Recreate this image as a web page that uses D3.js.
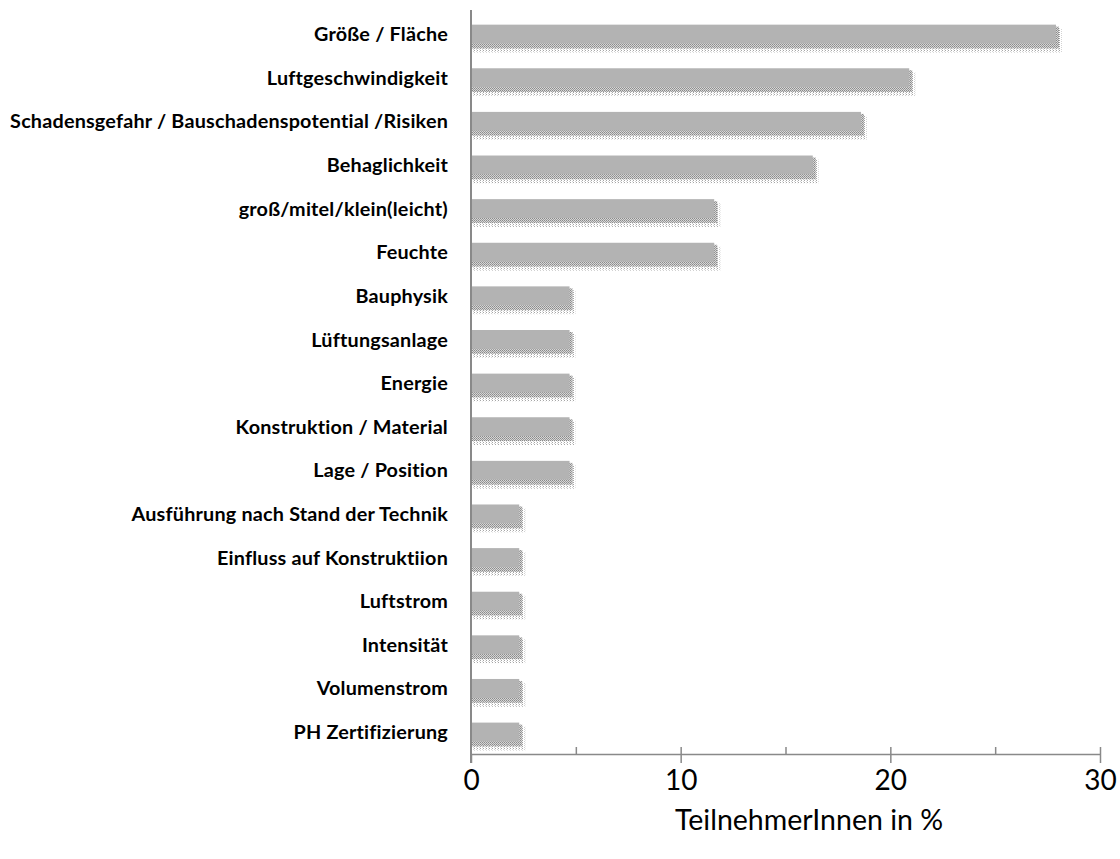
<!DOCTYPE html>
<html>
<head>
<meta charset="utf-8">
<script src="https://cdn.jsdelivr.net/npm/d3@7"></script>
<style>
  html, body { margin: 0; padding: 0; background: #fff; }
  svg { display: block; }
</style>
</head>
<body>
<svg id="chart" width="1120" height="859"></svg>
<script>
// Aspects named by participants (share of participants, %)
const categories = [
  "Größe / Fläche",
  "Luftgeschwindigkeit",
  "Schadensgefahr / Bauschadenspotential /Risiken",
  "Behaglichkeit",
  "groß/mitel/klein(leicht)",
  "Feuchte",
  "Bauphysik",
  "Lüftungsanlage",
  "Energie",
  "Konstruktion / Material",
  "Lage / Position",
  "Ausführung nach Stand der Technik",
  "Einfluss auf Konstruktiion",
  "Luftstrom",
  "Intensität",
  "Volumenstrom",
  "PH Zertifizierung"
];
const values = [27.9, 20.9, 18.6, 16.3, 11.6, 11.6, 4.7, 4.7, 4.7, 4.7, 4.7, 2.3, 2.3, 2.3, 2.3, 2.3, 2.3];
const majorTicks = [0, 10, 20, 30];
const minorTicks = [5, 10, 15, 20, 25, 30];
const axisTitle = "TeilnehmerInnen in %";

const svg = d3.select("#chart");
const plotLeft = 471, plotRight = 1100, plotTop = 12, plotBottom = 754;
const axisColor = "#898989";
const font = "Lato, 'Open Sans', sans-serif";

const x = d3.scaleLinear().domain([0, 30]).range([plotLeft, plotRight]);
const y = d3.scaleBand().domain(categories).range([plotTop, plotBottom]).paddingInner(0.57).paddingOuter(0.29);
const bw = y.bandwidth();

// dithered shadow patterns: a darker band near the bar, a sparse one further out
const defs = svg.append("defs");
const darkDither = defs.append("pattern").attr("id", "ditherDark")
  .attr("width", 2).attr("height", 2).attr("patternUnits", "userSpaceOnUse");
darkDither.append("rect").attr("width", 2).attr("height", 2).attr("fill", "#d6d6d6");
darkDither.append("rect").attr("x", 0).attr("y", 0).attr("width", 1).attr("height", 1).attr("fill", "#8a8a8a");
darkDither.append("rect").attr("x", 1).attr("y", 1).attr("width", 1).attr("height", 1).attr("fill", "#9c9c9c");
const lightDither = defs.append("pattern").attr("id", "ditherLight")
  .attr("width", 3).attr("height", 2).attr("patternUnits", "userSpaceOnUse");
lightDither.append("rect").attr("width", 3).attr("height", 2).attr("fill", "#ffffff");
lightDither.append("rect").attr("x", 0).attr("y", 0).attr("width", 1).attr("height", 1).attr("fill", "#a6a6a6");
lightDither.append("rect").attr("x", 2).attr("y", 1).attr("width", 1).attr("height", 1).attr("fill", "#d2d2d2");

const bars = svg.append("g");
bars.selectAll("rect.shadow-outer").data(values).join("rect")
  .attr("class", "shadow-outer")
  .attr("x", x(0) + 2)
  .attr("y", (d, i) => y(categories[i]) + 4)
  .attr("width", d => x(d) - x(0) + 4)
  .attr("height", bw + 5)
  .attr("fill", "url(#ditherLight)");
bars.selectAll("rect.shadow-inner").data(values).join("rect")
  .attr("class", "shadow-inner")
  .attr("x", x(0) + 1)
  .attr("y", (d, i) => y(categories[i]) + 2)
  .attr("width", d => x(d) - x(0) + 2)
  .attr("height", bw + 3)
  .attr("fill", "url(#ditherDark)");
bars.selectAll("rect.bar").data(values).join("rect")
  .attr("class", "bar")
  .attr("x", x(0))
  .attr("y", (d, i) => y(categories[i]))
  .attr("width", d => x(d) - x(0))
  .attr("height", bw)
  .attr("fill", "#b3b3b3");

// category labels
const yAxis = svg.append("g").attr("transform", `translate(${plotLeft},0)`)
  .call(d3.axisLeft(y).tickSize(0).tickPadding(23));
yAxis.select(".domain").remove();
yAxis.selectAll("text")
  .attr("font-family", font)
  .attr("font-weight", "bold")
  .attr("font-size", 19.8)
  .attr("letter-spacing", "0.2px")
  .attr("fill", "#000")
  .attr("dy", "0.36em");

// vertical axis line
svg.append("line").attr("x1", plotLeft).attr("x2", plotLeft).attr("y1", 10).attr("y2", 763)
  .attr("stroke", axisColor).attr("stroke-width", 2);

// minor/major ticks above the axis
const xTop = svg.append("g").attr("transform", `translate(0,${plotBottom})`)
  .call(d3.axisTop(x).tickValues(minorTicks).tickSize(7).tickFormat(""));
xTop.select(".domain").remove();
xTop.selectAll("line").attr("stroke", axisColor).attr("stroke-width", 1.5);

// major ticks below the axis with labels
const xBottom = svg.append("g").attr("transform", `translate(0,${plotBottom})`)
  .call(d3.axisBottom(x).tickValues(majorTicks).tickSize(9).tickSizeOuter(0).tickPadding(7));
xBottom.select(".domain").attr("stroke", axisColor).attr("stroke-width", 1.5);
xBottom.selectAll("line").attr("stroke", axisColor).attr("stroke-width", 1.5);
xBottom.selectAll("text")
  .attr("font-family", font)
  .attr("font-size", 28)
  .attr("fill", "#000");

svg.append("text")
  .attr("x", 809).attr("y", 830)
  .attr("text-anchor", "middle")
  .attr("font-family", font)
  .attr("font-size", 28.5)
  .attr("fill", "#000")
  .text(axisTitle);
</script>
</body>
</html>
